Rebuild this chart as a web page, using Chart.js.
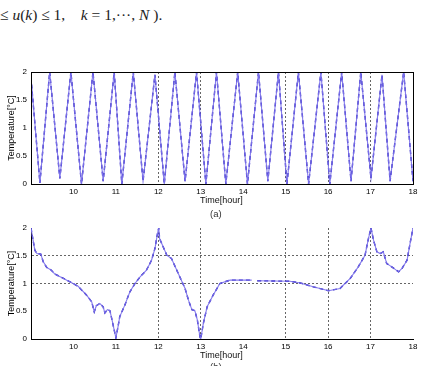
<!DOCTYPE html>
<html>
<head>
<meta charset="utf-8">
<script src="https://cdn.jsdelivr.net/npm/chart.js@4/dist/chart.umd.min.js"></script>
<style>
  html, body { margin:0; padding:0; background:#fff; overflow:hidden; }
  body { width:421px; height:366px; position:relative; }
  .txt { position:absolute; font-family:"Liberation Sans", Arial, sans-serif; color:#111; white-space:nowrap; }
  #eq { position:absolute; left:0; top:6px; font-family:"Liberation Serif","Times New Roman",serif; font-size:15.5px; color:#222; white-space:nowrap; }
  canvas { position:absolute; left:0; }
</style>
</head>
<body>
<div id="eq">&le; <i>u</i>(<i>k</i>) &le; 1,&nbsp;&nbsp;&nbsp; <i>k</i> = 1,&middot;&middot;&middot;, <i>N</i> ).</div>
<canvas id="ca" width="421" height="140" style="top:60px"></canvas>
<div class="txt" style="left:200px; top:195px; font-size:9px;">Time[hour]</div>
<div class="txt" style="left:210px; top:208px; font-size:9.5px; color:#333;">(a)</div>
<canvas id="cb" width="421" height="136" style="top:216px"></canvas>
<div class="txt" style="left:200px; top:350px; font-size:9px;">Time[hour]</div>
<div class="txt" style="left:210px; top:361px; font-size:9.5px; color:#333;">(b)</div>
<script>
// ---- data ----
const xTicks = [10, 11, 12, 13, 14, 15, 16, 17, 18];
const yTicks = [0, 0.5, 1, 1.5, 2];
const vGridA = [12, 13, 15, 16, 17];
const vGridB = [12, 13, 15, 16, 17];
const hGridB = [1, 1.5];

const timeA = [9.00, 9.21, 9.44, 9.68, 9.94, 10.19, 10.46, 10.70, 10.96, 11.14, 11.41, 11.64, 11.92, 12.14, 12.39, 12.63, 12.90, 13.12, 13.37, 13.59, 13.87, 14.10, 14.36, 14.58, 14.83, 15.03, 15.30, 15.54, 15.83, 16.04, 16.32, 16.54, 16.77, 17.01, 17.27, 17.46, 17.78, 18.00];
const tempA = [1.9, 0.02, 2, 0.1, 2, 0, 2, 0.05, 2, 0, 2, 0.05, 1.95, 0, 2, 0.05, 2, 0, 2, 0, 2, 0, 2, 0.05, 2, 0, 2, 0, 2, 0, 2, 0.05, 2, 0.1, 1.95, 0.05, 2, 0.05];

const timeB = [9.00, 9.09, 9.14, 9.23, 9.29, 9.37, 9.48, 9.56, 9.72, 9.99, 10.11, 10.31, 10.43, 10.49, 10.54, 10.62, 10.70, 10.74, 10.80, 10.86, 10.91, 11.00, 11.05, 11.09, 11.21, 11.33, 11.45, 11.57, 11.72, 11.84, 11.92, 11.98, 12.01, 12.03, 12.08, 12.20, 12.31, 12.47, 12.63, 12.71, 12.79, 12.86, 12.92, 12.98, 13.00, 13.06, 13.15, 13.29, 13.45, 13.69, 13.92, 14.20, 14.27, 14.33, 15.10, 15.34, 15.65, 16.01, 16.28, 16.52, 16.71, 16.87, 16.95, 17.01, 17.07, 17.15, 17.23, 17.30, 17.38, 17.50, 17.66, 17.74, 17.86, 17.93, 18.00];
const tempB = [2.0, 1.6, 1.54, 1.53, 1.39, 1.29, 1.24, 1.17, 1.11, 1.0, 0.95, 0.79, 0.67, 0.49, 0.60, 0.64, 0.58, 0.47, 0.53, 0.51, 0.34, 0.02, 0.22, 0.40, 0.61, 0.85, 1.0, 1.12, 1.24, 1.42, 1.63, 1.9, 2.0, 1.81, 1.72, 1.51, 1.45, 1.18, 0.91, 0.70, 0.53, 0.51, 0.34, 0.04, 0.0, 0.28, 0.58, 0.79, 1.0, 1.06, 1.06, 1.06, null, 1.05, 1.04, 1.01, 0.94, 0.87, 0.91, 1.09, 1.30, 1.51, 1.81, 2.0, 1.78, 1.57, 1.54, 1.57, 1.36, 1.30, 1.21, 1.27, 1.42, 1.72, 2.0];

const yTitle = 'Temperature[°C]';

// ---- helpers ----
const FONT = '"Liberation Sans", Arial, sans-serif';
function pts(xs, ys) { return xs.map((x, i) => ({x: x, y: ys[i]})); }

const boxPlugin = {
  id: 'box',
  afterDatasetsDraw(chart, args, opts) {
    if (!opts.full) return;
    const a = chart.chartArea, c = chart.ctx;
    c.save();
    c.strokeStyle = '#000'; c.lineWidth = 1;
    c.strokeRect(Math.round(a.left) + 0.5, Math.round(a.top) + 0.5, Math.round(a.right - a.left), Math.round(a.bottom - a.top));
    c.restore();
  }
};

function makeChart(id, xs, ys, vGrid, hGrid, full, axisH) {
  return new Chart(document.getElementById(id), {
    type: 'line',
    data: {
      datasets: [
        { data: pts(xs, ys), borderColor: 'rgba(125,115,235,0.95)', borderWidth: 1.1, pointRadius: 0, tension: 0, spanGaps: false },
        { data: pts(xs, ys), borderColor: 'rgb(25,15,185)', borderWidth: 1.4, borderDash: [4, 3], pointRadius: 0, tension: 0, spanGaps: false }
      ]
    },
    options: {
      responsive: false, animation: false, devicePixelRatio: 1,
      layout: { padding: { top: 12, right: 8, left: 0, bottom: 0 } },
      plugins: { legend: { display: false }, tooltip: { enabled: false }, box: { full: full } },
      scales: {
        x: {
          type: 'linear', min: 9, max: 18,
          afterBuildTicks: s => { s.ticks = [9].concat(xTicks).map(v => ({value: v})); },
          afterFit: s => { s.height = axisH; },
          ticks: { autoSkip: false, maxRotation: 0, padding: 3, color: '#000',
                   font: { family: FONT, size: 8 },
                   callback: v => (v === 9 ? '' : String(v)) },
          grid: { drawTicks: false, lineWidth: 1,
                  color: c => (c.tick && vGrid.includes(c.tick.value)) ? '#666' : 'rgba(0,0,0,0)' },
          border: { display: true, color: '#000', width: 1, dash: [2, 2] }
        },
        y: {
          min: 0, max: 2,
          afterBuildTicks: s => { s.ticks = yTicks.map(v => ({value: v})); },
          afterFit: s => { s.width = 31; },
          ticks: { padding: 4, color: '#000', font: { family: FONT, size: 8 },
                   callback: v => String(v) },
          grid: { drawTicks: false, lineWidth: 1,
                  color: c => (c.tick && hGrid.includes(c.tick.value)) ? '#666' : 'rgba(0,0,0,0)' },
          border: { display: true, color: '#000', width: 1, dash: [2, 2] },
          title: { display: true, text: yTitle, color: '#000', padding: { top: 6, bottom: 0 },
                   font: { family: FONT, size: 9 } }
        }
      }
    },
    plugins: [boxPlugin]
  });
}

makeChart('ca', timeA, tempA, vGridA, [], true, 16);
makeChart('cb', timeB, tempB, vGridB, hGridB, false, 13);
</script>
</body>
</html>
